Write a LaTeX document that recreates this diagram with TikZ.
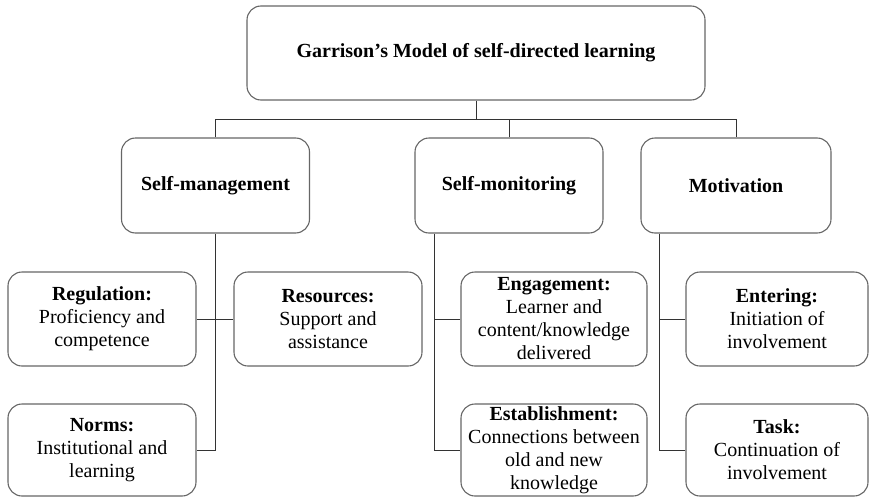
\documentclass[tikz,border=0pt]{standalone}
\usepackage{fontspec}
\setmainfont{Liberation Serif}
\usetikzlibrary{calc}

\begin{document}
\begin{tikzpicture}[x=1pt,y=-1pt,
	box/.style={draw=black!60,line width=1.1pt,fill=white,rounded corners=14pt,align=center,inner sep=0pt,
		minimum height=94pt,font=\fontsize{20}{23}\selectfont,text=black},
	wire/.style={draw=black!80,line width=1pt}]
	\useasboundingbox (0,0) rectangle (870,498);
	% top
	\node (title) at (476,53) [box,minimum width=458pt] {\textbf{Garrison’s Model of self-directed learning}};
	\node (mgmt) at (215.5,185.5) [box,minimum width=188pt,minimum height=95pt] {\textbf{Self-management}};
	\node (mon) at (509,185.5) [box,minimum width=188pt,minimum height=95pt] {\textbf{Self-monitoring}};
	\node (mot) at (736,185.5) [box,minimum width=190pt,minimum height=95pt] {\textbf{Motivation}};
	\draw[wire] (title.south) -- ++(0,19) coordinate (bus);
	\draw[wire] (mgmt.north) |- (bus) -| (mot.north);
	\draw[wire] (mon.north) |- (bus);
	% self-management
	\node (reg) at (102,319) [box,minimum width=188pt] {\textbf{Regulation:}\\Proficiency and\\competence};
	\node (res) at (328,319) [box,minimum width=188pt] {\textbf{Resources:}\\Support and\\assistance};
	\node (norm) at (102,450) [box,minimum width=188pt,minimum height=92pt] {\textbf{Norms:}\\Institutional and\\learning};
	\draw[wire] (mgmt.south) |- (norm.east);
	\draw[wire] (reg.east) -- (res.west);
	% self-monitoring
	\node (eng) at (554,319) [box,minimum width=186pt] {\textbf{Engagement:}\\Learner and\\content/knowledge\\delivered};
	\node (est) at (554,450) [box,minimum width=186pt,minimum height=92pt] {\textbf{Establishment:}\\Connections between\\old and new\\knowledge};
	\coordinate (m1) at ([xshift=-26pt]mon.south -| eng.west);
	\draw[wire] (m1) |- (est.west);
	\draw[wire] (eng.west) -- (eng.west -| m1);
	% motivation
	\node (ent) at (777,319) [box,minimum width=182pt] {\textbf{Entering:}\\Initiation of\\involvement};
	\node (task) at (777,450) [box,minimum width=182pt,minimum height=92pt] {\textbf{Task:}\\Continuation of\\involvement};
	\coordinate (m2) at ([xshift=-26pt]mot.south -| ent.west);
	\draw[wire] (m2) |- (task.west);
	\draw[wire] (ent.west) -- (ent.west -| m2);
\end{tikzpicture}
\end{document}
